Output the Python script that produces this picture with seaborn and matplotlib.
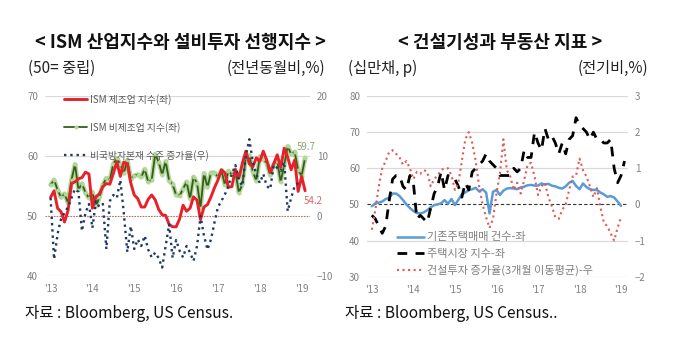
import matplotlib
matplotlib.use('Agg')
import matplotlib.pyplot as plt
import seaborn as sns
import pandas as pd
import numpy as np

sns.set_theme(style='white')
plt.rcParams['font.family'] = ['Noto Sans CJK KR', 'DejaVu Sans']

# left panel: ISM indices (lhs) and non-defense capital goods orders yoy (rhs), monthly from Jan 2013
ism_mfg = [53.1, 54.2, 51.3, 50.7, 49.0, 50.9, 55.4, 55.7, 56.2, 56.4, 57.3, 57.0,
           51.3, 53.2, 53.7, 54.9, 55.4, 55.3, 57.1, 59.0, 56.6, 59.0, 58.7, 55.5,
           53.5, 52.9, 51.5, 51.5, 52.8, 53.5, 52.7, 51.1, 50.2, 50.1, 48.6, 48.2,
           48.2, 49.5, 51.8, 50.8, 51.3, 53.2, 52.6, 49.4, 51.5, 51.9, 53.2, 54.7,
           56.0, 57.7, 57.2, 54.8, 54.9, 57.8, 56.3, 58.8, 60.8, 58.7, 58.2, 59.7,
           59.1, 60.8, 59.3, 57.3, 58.7, 60.2, 58.1, 61.3, 59.8, 57.7, 59.3, 54.1,
           56.6, 54.2]
ism_nonmfg = [55.2, 56.0, 54.4, 53.1, 53.7, 52.2, 56.0, 58.6, 54.4, 55.4, 53.9, 53.0,
              54.0, 51.6, 53.1, 55.2, 56.3, 56.0, 58.7, 59.6, 58.6, 57.1, 59.3, 56.2,
              56.7, 56.9, 56.5, 57.8, 55.7, 56.0, 60.3, 59.0, 56.9, 59.1, 55.9, 55.3,
              53.5, 53.4, 54.5, 55.7, 52.9, 56.5, 55.5, 51.4, 57.1, 54.8, 57.2, 57.2,
              56.5, 57.6, 55.2, 57.5, 56.9, 57.4, 53.9, 55.3, 59.8, 60.1, 57.4, 55.9,
              59.9, 59.5, 58.8, 56.8, 58.6, 59.1, 55.7, 58.5, 61.6, 60.3, 60.7, 57.6,
              56.7, 59.7]
cap_orders = [3.0, -7.2, -3.0, -0.5, 0.5, 1.5, 3.0, 4.5, 4.0, -2.5, 0.5, 2.0,
              -2.0, 2.5, 1.5, 2.0, -5.5, 2.5, 3.5, 3.0, 6.0, 0.5, -6.0, -1.7,
              -5.5, -3.9, -5.0, -3.3, -5.6, -6.9, -6.1, -7.0, -8.6, -5.0, -1.4, -7.0,
              -4.0, -5.8, -6.9, -5.0, -6.1, -7.5, -5.0, 0.0, -3.3, -5.6, -3.9, -1.1,
              1.5, 2.5, 3.6, 5.0, 7.0, 8.5, 6.0, 5.0, 10.0, 12.8, 9.0, 7.0,
              5.5, 7.0, 5.0, 4.5, 8.5, 8.0, 7.5, 9.0, 0.8, 3.0, 5.0, 5.5]

# right panel: existing home sales (10만채), NAHB index (lhs), construction spending 3mma (rhs)
home_sales = [49.5, 50.3, 50.5, 50.8, 51.5, 51.8, 53.0, 53.0, 52.3, 51.2, 50.0, 49.0,
              48.2, 47.6, 47.5, 47.8, 48.4, 49.2, 49.8, 50.0, 50.3, 51.2, 50.2, 51.5,
              49.8, 51.3, 52.8, 53.3, 54.0, 54.2, 54.6, 53.6, 54.2, 53.3, 47.5, 53.5,
              54.0, 52.6, 53.8, 54.4, 54.5, 54.4, 54.2, 54.7, 54.9, 55.3, 55.4, 55.2,
              55.2, 55.8, 55.5, 55.7, 55.2, 55.0, 54.6, 54.4, 55.0, 56.0, 56.5, 55.1,
              54.2, 55.8, 54.8, 54.2, 54.0, 54.0, 53.3, 52.8, 52.1, 52.3, 51.9, 50.8,
              49.6]
nahb = [47, 46, 44, 42, 44, 51, 57, 58, 58, 55, 54, 58,
        56, 46, 47, 46, 45, 49, 53, 55, 59, 54, 58, 57,
        57, 55, 52, 56, 54, 59, 60, 61, 62, 64, 62, 61,
        60, 58, 58, 58, 58, 60, 59, 60, 65, 63, 63, 70,
        67, 65, 71, 68, 69, 67, 64, 67, 64, 68, 69, 74,
        72, 71, 70, 68, 70, 68, 68, 67, 67, 68, 60, 56,
        58, 62]
constr = [-0.7, -0.15, 0.5, 1.0, 1.2, 1.45, 1.5, 1.4, 1.3, 1.1, 1.2, 1.0,
          0.7, 0.9, 0.85, 0.95, 0.9, 0.5, 0.7, 0.8, 0.95, 1.0, 1.0, 0.8,
          0.4, 0.6, 1.2, 1.8, 2.0, 1.7, 1.2, 0.5, 0.0, -0.35, -0.65, -0.4,
          0.3, 0.85, 1.8, 0.95, 0.77, 0.4, 0.6, 0.3, 0.67, 1.1, 1.15, 0.77,
          0.26, 0.5, 0.6, 0.2, -0.05, -0.35, -0.4, -0.15, 0.0, 0.4, 0.77, 0.8,
          1.27, 0.95, 0.77, 0.5, 0.2, 0.45, -0.05, -0.5, -0.6, -0.8, -1.0, -0.65,
          -0.35]

year_labels = ["'13", "'14", "'15", "'16", "'17", "'18", "'19"]
year_ticks = [0, 12, 24, 36, 48, 60, 72]

df_left = pd.DataFrame({'m': np.arange(len(ism_mfg)), 'mfg': ism_mfg, 'nonmfg': ism_nonmfg})
df_cap = pd.DataFrame({'m': np.arange(len(cap_orders)), 'cap': cap_orders})
df_home = pd.DataFrame({'m': np.arange(len(home_sales)), 'sales': home_sales})
df_nahb = pd.DataFrame({'m': np.arange(len(nahb)), 'nahb': nahb})
df_con = pd.DataFrame({'m': np.arange(len(constr)), 'con': constr})

W, H = 680, 364
fig = plt.figure(figsize=(W / 100, H / 100), dpi=100)


def box(x0, y0, x1, y1):
    return [x0 / W, 1 - y1 / H, (x1 - x0) / W, (y1 - y0) / H]


tick_col = '#808080'
grid_col = '#d9d9d9'


def style_axes(ax, ax2):
    for a in (ax, ax2):
        for s in a.spines.values():
            s.set_visible(False)
        a.tick_params(length=0, labelsize=7, colors=tick_col)
        a.grid(False)
        a.set_xlabel('')
        a.set_ylabel('')
    ax.tick_params(axis='y', pad=5)
    ax2.tick_params(axis='y', pad=5)
    ax.tick_params(axis='x', pad=6)
    ax.set_xticks(year_ticks)
    ax.set_xticklabels(year_labels)


# ---- left panel
ax = fig.add_axes(box(45, 96, 310, 276))
ax2 = ax.twinx()
for v in (70, 60, 40):
    ax.axhline(v, color=grid_col, lw=0.9, zorder=0)
ax.axhline(50, color='#b5735f', lw=0.8, ls=(0, (1.5, 1)), zorder=1)

# light green halo under the dark non-manufacturing line
sns.lineplot(data=df_left, x='m', y='nonmfg', ax=ax, color='#b3d89a', lw=3.4,
             legend=False, zorder=2)
sns.lineplot(data=df_left, x='m', y='mfg', ax=ax, color='#e8202a', lw=2.1,
             label='ISM 제조업 지수(좌)', legend=False, zorder=4)
sns.lineplot(data=df_left, x='m', y='nonmfg', ax=ax, color='#355e1c', lw=1.3,
             marker='o', markersize=2.2, markerfacecolor='#b3d89a', markeredgecolor='#b3d89a',
             label='ISM 비제조업 지수(좌)', legend=False, zorder=3)
sns.lineplot(data=df_cap, x='m', y='cap', ax=ax2, color='#1f3864', lw=1.7, linestyle=':',
             label='비국방자본재 수주 증가율(우)', legend=False)

ax.set_ylim(40, 70)
ax.set_yticks([40, 50, 60, 70])
ax2.set_ylim(-10, 20)
ax2.set_yticks([-10, 0, 10, 20])
ax.set_xlim(-1.6, 74.4)
style_axes(ax, ax2)

handles = ax.lines[-2:] + ax2.lines[-1:]
ax2.legend(handles=handles, labels=[h.get_label() for h in handles], frameon=False,
           loc='upper left', bbox_to_anchor=(60 / W, 1 - 90 / H), bbox_transform=fig.transFigure,
           fontsize=7, labelcolor='#595959', handlelength=2.4, handletextpad=0.3,
           labelspacing=1.75, borderaxespad=0)

ax.annotate('59.7', xy=(73, 59.7), xytext=(-6, 4), textcoords='offset points',
            fontsize=7, color='#86a875', ha='left', va='bottom')
ax.annotate('54.2', xy=(73, 54.2), xytext=(-1, -4), textcoords='offset points',
            fontsize=7, color='#e06666', ha='left', va='top')

fig.text(180 / W, 1 - 42 / H, '< ISM 산업지수와 설비투자 선행지수 >', ha='center', va='center',
         fontsize=13, fontweight='bold', color='#111111')
fig.text(28 / W, 1 - 68 / H, '(50= 중립)', ha='left', va='center', fontsize=11, color='#222222')
fig.text(325 / W, 1 - 68 / H, '(전년동월비,%)', ha='right', va='center', fontsize=11, color='#222222')
fig.text(25 / W, 1 - 313 / H, '자료 : Bloomberg, US Census.', ha='left', va='center',
         fontsize=11.2, color='#111111')

# ---- right panel
bx = fig.add_axes(box(367, 96, 628, 276.7))
bx2 = bx.twinx()
for v in (80, 70, 60, 40, 30):
    bx.axhline(v, color=grid_col, lw=0.9, zorder=0)
bx.axhline(50, color='#333333', lw=0.8, ls=(0, (3, 2)), zorder=1)

sns.lineplot(data=df_home, x='m', y='sales', ax=bx, color='#5b9bd5', lw=1.8,
             label='기존주택매매 건수-좌', legend=False, zorder=3)
sns.lineplot(data=df_nahb, x='m', y='nahb', ax=bx, color='black', lw=2.0, linestyle=(0, (3.5, 3)),
             label='주택시장 지수-좌', legend=False, zorder=4)
sns.lineplot(data=df_con, x='m', y='con', ax=bx2, color='#e05a5a', lw=1.5, linestyle=':',
             label='건설투자 증가율(3개월 이동평균)-우', legend=False)

bx.set_ylim(30, 80)
bx.set_yticks([30, 40, 50, 60, 70, 80])
bx2.set_ylim(-2, 3)
bx2.set_yticks([-2, -1, 0, 1, 2, 3])
bx.set_xlim(-1.4, 74.0)
style_axes(bx, bx2)

handles = bx.lines[-2:] + bx2.lines[-1:]
bx2.legend(handles=handles, labels=[h.get_label() for h in handles], frameon=False,
           loc='upper left', bbox_to_anchor=(393 / W, 1 - 228 / H), bbox_transform=fig.transFigure,
           fontsize=8, labelcolor='#7f7f7f', handlelength=2.4, handletextpad=0.3,
           labelspacing=0.55, borderaxespad=0)

fig.text(500 / W, 1 - 42 / H, '< 건설기성과 부동산 지표 >', ha='center', va='center',
         fontsize=13, fontweight='bold', color='#111111')
fig.text(348 / W, 1 - 68 / H, '(십만채, p)', ha='left', va='center', fontsize=11, color='#222222')
fig.text(648 / W, 1 - 68 / H, '(전기비,%)', ha='right', va='center', fontsize=11, color='#222222')
fig.text(345 / W, 1 - 313 / H, '자료 : Bloomberg, US Census..', ha='left', va='center',
         fontsize=11.2, color='#111111')

fig.savefig('out.png', dpi=100, facecolor='white')
plt.close(fig)
